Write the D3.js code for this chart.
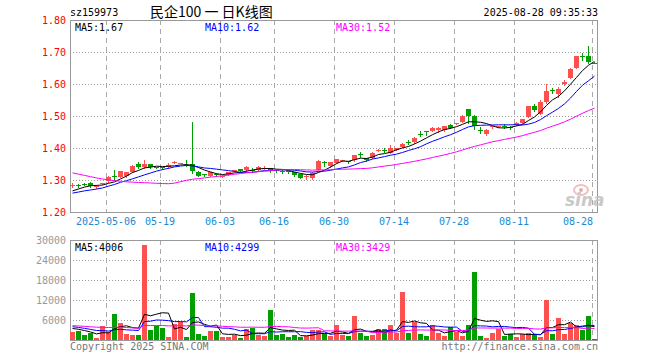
<!DOCTYPE html>
<html>
<head>
<meta charset="utf-8">
<script src="https://cdn.jsdelivr.net/npm/d3@7"></script>
<style>
  body { margin: 0; background: #fff; }
</style>
</head>
<body>
<div id="chart"></div>
<script>
// trading days shown on the chart
const dates = [
  "2025-04-23","2025-04-24","2025-04-25","2025-04-28","2025-04-29","2025-04-30",
  "2025-05-06","2025-05-07","2025-05-08","2025-05-09","2025-05-12","2025-05-13","2025-05-14","2025-05-15","2025-05-16",
  "2025-05-19","2025-05-20","2025-05-21","2025-05-22","2025-05-23","2025-05-26","2025-05-27","2025-05-28","2025-05-29","2025-05-30",
  "2025-06-03","2025-06-04","2025-06-05","2025-06-06","2025-06-09","2025-06-10","2025-06-11","2025-06-12","2025-06-13",
  "2025-06-16","2025-06-17","2025-06-18","2025-06-19","2025-06-20","2025-06-23","2025-06-24","2025-06-25","2025-06-26","2025-06-27",
  "2025-06-30","2025-07-01","2025-07-02","2025-07-03","2025-07-04","2025-07-07","2025-07-08","2025-07-09","2025-07-10","2025-07-11",
  "2025-07-14","2025-07-15","2025-07-16","2025-07-17","2025-07-18","2025-07-21","2025-07-22","2025-07-23","2025-07-24","2025-07-25",
  "2025-07-28","2025-07-29","2025-07-30","2025-07-31","2025-08-01","2025-08-04","2025-08-05","2025-08-06","2025-08-07","2025-08-08",
  "2025-08-11","2025-08-12","2025-08-13","2025-08-14","2025-08-15","2025-08-18","2025-08-19","2025-08-20","2025-08-21","2025-08-22",
  "2025-08-25","2025-08-26","2025-08-27","2025-08-28"
];

const open = [
  1.283,1.284,1.289,1.292,1.278,1.288,1.297,1.312,1.309,1.313,
  1.325,1.351,1.341,1.350,1.341,1.340,1.340,1.354,1.353,1.347,
  1.351,1.326,1.318,1.313,1.319,1.312,1.316,1.329,1.334,1.331,
  1.332,1.332,1.337,1.337,1.331,1.328,1.327,1.324,1.318,1.310,
  1.305,1.332,1.355,1.343,1.353,1.360,1.358,1.361,1.381,1.369,
  1.370,1.393,1.395,1.385,1.394,1.404,1.420,1.418,1.445,1.453,
  1.454,1.455,1.455,1.473,1.475,1.482,1.522,1.501,1.457,1.443,
  1.466,1.466,1.469,1.466,1.473,1.478,1.497,1.532,1.507,1.544,
  1.581,1.569,1.601,1.619,1.650,1.688,1.688,1.667
];
const high = [
  1.292,1.288,1.291,1.293,1.283,1.291,1.311,1.332,1.329,1.326,
  1.346,1.355,1.361,1.351,1.342,1.341,1.352,1.358,1.354,1.361,
  1.480,1.327,1.319,1.326,1.321,1.315,1.326,1.332,1.335,1.343,
  1.337,1.345,1.343,1.338,1.332,1.330,1.329,1.325,1.319,1.315,
  1.324,1.361,1.360,1.357,1.367,1.363,1.359,1.379,1.387,1.370,
  1.386,1.396,1.401,1.408,1.401,1.416,1.424,1.434,1.452,1.453,
  1.466,1.466,1.469,1.474,1.478,1.502,1.523,1.502,1.465,1.458,
  1.470,1.469,1.474,1.468,1.481,1.492,1.531,1.537,1.551,1.600,
  1.588,1.590,1.613,1.650,1.689,1.698,1.720,1.668
];
const low = [
  1.277,1.277,1.284,1.279,1.276,1.287,1.295,1.301,1.308,1.310,
  1.324,1.336,1.339,1.338,1.336,1.333,1.337,1.353,1.352,1.343,
  1.322,1.311,1.313,1.311,1.314,1.310,1.315,1.328,1.328,1.327,
  1.324,1.330,1.334,1.326,1.324,1.322,1.321,1.313,1.305,1.303,
  1.303,1.331,1.345,1.340,1.352,1.359,1.352,1.360,1.373,1.360,
  1.369,1.390,1.386,1.383,1.393,1.403,1.412,1.417,1.436,1.441,
  1.453,1.451,1.454,1.461,1.474,1.480,1.478,1.460,1.446,1.441,
  1.461,1.465,1.462,1.460,1.472,1.477,1.496,1.516,1.505,1.540,
  1.573,1.560,1.598,1.618,1.649,1.676,1.667,1.665
];
const close = [
  1.285,1.282,1.287,1.282,1.280,1.290,1.309,1.310,1.328,1.324,
  1.345,1.342,1.350,1.340,1.339,1.338,1.348,1.356,1.354,1.345,
  1.327,1.313,1.316,1.325,1.317,1.314,1.325,1.331,1.329,1.340,
  1.330,1.342,1.339,1.329,1.329,1.326,1.325,1.316,1.307,1.312,
  1.322,1.360,1.352,1.356,1.366,1.362,1.356,1.378,1.379,1.361,
  1.385,1.395,1.393,1.399,1.400,1.414,1.418,1.432,1.443,1.451,
  1.464,1.462,1.468,1.462,1.477,1.501,1.501,1.469,1.454,1.457,
  1.468,1.468,1.466,1.464,1.479,1.491,1.530,1.520,1.545,1.579,
  1.578,1.585,1.606,1.648,1.686,1.685,1.668,1.666
];
const volume = [
  2300,2700,1500,2000,600,4200,2300,7800,5200,1800,
  1500,1500,28500,3000,4300,3600,900,4800,5500,900,
  14100,1800,1200,2700,2700,900,900,1500,600,3300,
  3600,1500,1100,9000,1500,1800,900,1500,900,1100,
  3000,3000,1800,1100,4500,1500,1100,7200,2100,1100,
  1500,3300,3300,4500,2100,14400,2100,5400,1800,1200,
  4400,2000,1200,3900,2400,1200,4400,20500,1200,600,
  2100,3200,1200,1780,1000,1800,2200,1800,1000,11900,
  1800,6500,1760,5000,4600,3000,7200,230
];

// earlier sessions (before the window) so the moving averages start where the picture shows
const priorClose = [
  1.405,1.402,1.400,1.398,1.395,1.390,1.385,1.380,1.378,1.375,
  1.372,1.370,1.368,1.366,1.365,1.365,1.300,1.220,1.215,1.231,
  1.248,1.250,1.255,1.252,1.255,1.252,1.258,1.261,1.274
];
const priorVolume = [
  5200,4800,6100,4300,5000,4500,5600,4200,4700,5300,
  4800,3600,3200,4100,3500,4400,3900,3300,4600,3900,
  4800,4200,5100,4000,4400,3900,3400,4100,3600
];

const priceTicks = [1.2, 1.3, 1.4, 1.5, 1.6, 1.7, 1.8];
const volumeTicks = [6000, 12000, 18000, 24000, 30000];
const dateTicks = ["2025-05-06","2025-05-19","2025-06-03","2025-06-16","2025-06-30","2025-07-14","2025-07-28","2025-08-11","2025-08-28"];
const maPeriods = [5, 10, 30];
const maColors = ["#000000", "#0000ff", "#ff00ff"];

const code = "sz159973";
const title = "民企100 一 日K线图";
const stamp = "2025-08-28 09:35:33";

const W = 660, H = 360;
const left = 70, right = 598;
const kTop = 20, kBottom = 212;
const vTop = 240, vBottom = 340;
const RED = "#ff5050", GREEN = "#00a000";
const mono = "DejaVu Sans Mono";

const svg = d3.select("#chart").append("svg")
    .attr("width", W)
    .attr("height", H)
    .style("font-family", mono)
    .style("font-size", "10px");

const x = d3.scaleBand().domain(dates).range([left, right]);
const y = d3.scaleLinear().domain([1.2, 1.8]).range([kBottom, kTop]);
const yv = d3.scaleLinear().domain([0, 30000]).range([vBottom, vTop]);

function movingAvg(series, prior, n) {
    const all = prior.concat(series);
    return series.map((_, i) => d3.mean(all.slice(i + prior.length - n + 1, i + prior.length + 1)));
}
const priceMA = maPeriods.map(n => movingAvg(close, priorClose, n));
const volMA = maPeriods.map(n => movingAvg(volume, priorVolume, n));

const candles = dates.map((d, i) => ({
    date: d, o: open[i], h: high[i], l: low[i], c: close[i], v: volume[i],
    up: close[i] >= open[i]
}));

svg.append("defs").call(g => {
    g.append("clipPath").attr("id", "clipK")
        .append("rect").attr("x", left).attr("y", kTop).attr("width", right - left).attr("height", kBottom - kTop);
    g.append("clipPath").attr("id", "clipV")
        .append("rect").attr("x", left).attr("y", vTop).attr("width", right - left).attr("height", vBottom - vTop);
});

// header
svg.append("text").attr("x", left).attr("y", 16).attr("fill", "#000").text(code);
svg.append("text").attr("x", 150).attr("y", 17)
    .style("font-family", "'Noto Sans CJK SC'")
    .style("font-size", "14px")
    .attr("fill", "#000").text(title);
svg.append("text").attr("x", right).attr("y", 16).attr("text-anchor", "end").attr("fill", "#000").text(stamp);

// grids for both panels
function panelGrid(top, bottom, scale, ticks) {
    const g = svg.append("g");
    g.selectAll(".h")
        .data(ticks.filter(t => Math.abs(scale(t) - top) > 1 && Math.abs(scale(t) - bottom) > 1))
        .enter().append("line")
        .attr("x1", left).attr("x2", right)
        .attr("y1", t => Math.round(scale(t)) + 0.5)
        .attr("y2", t => Math.round(scale(t)) + 0.5)
        .attr("stroke", "#999").attr("stroke-dasharray", "1,2");
    g.selectAll(".v")
        .data(dateTicks)
        .enter().append("line")
        .attr("x1", d => x(d) + 0.5).attr("x2", d => x(d) + 0.5)
        .attr("y1", top).attr("y2", bottom)
        .attr("stroke", "#aaa").attr("stroke-dasharray", "5,4");
    g.append("rect")
        .attr("x", left + 0.5).attr("y", top + 0.5)
        .attr("width", right - left - 1).attr("height", bottom - top)
        .attr("fill", "none").attr("stroke", "#999");
}
panelGrid(kTop, kBottom, y, priceTicks);
panelGrid(vTop, vBottom, yv, volumeTicks);

// price labels
svg.append("g").selectAll("text")
    .data(priceTicks)
    .enter().append("text")
    .attr("x", 66).attr("y", d => y(d) + 4)
    .attr("text-anchor", "end")
    .attr("fill", "#f00")
    .text(d => d.toFixed(2));

// volume labels
svg.append("g").selectAll("text")
    .data(volumeTicks)
    .enter().append("text")
    .attr("x", 66).attr("y", d => yv(d) + 4)
    .attr("text-anchor", "end")
    .attr("fill", "#999")
    .text(d => d);

// date labels
const charW = 6.02;
svg.append("g").selectAll("text")
    .data(dateTicks)
    .enter().append("text")
    .attr("x", (d, i) => {
        const label = i === 0 ? d : d.slice(5);
        const w = label.length * charW;
        return Math.min(x(d), right - 5 - w / 2);
    })
    .attr("y", 225)
    .attr("text-anchor", "middle")
    .attr("fill", "#1a8ad4")
    .text((d, i) => i === 0 ? d : d.slice(5));

// sina watermark
const logo = svg.append("g").attr("opacity", 0.9);
logo.append("ellipse").attr("cx", 581).attr("cy", 190).attr("rx", 7).attr("ry", 5)
    .attr("fill", "none").attr("stroke", "#f2b8b8").attr("stroke-width", 2);
logo.append("circle").attr("cx", 581).attr("cy", 190).attr("r", 2).attr("fill", "#e9a0a0");
logo.append("text").attr("x", 565).attr("y", 206)
    .style("font-family", "'DejaVu Sans'")
    .style("font-size", "17px").style("font-weight", "bold").style("font-style", "italic")
    .attr("fill", "#c4c4c4").text("sina");

// candles
const kg = svg.append("g").attr("clip-path", "url(#clipK)").attr("shape-rendering", "crispEdges");
kg.selectAll(".wick")
    .data(candles)
    .enter().append("line")
    .attr("x1", d => x(d.date) + 2.5).attr("x2", d => x(d.date) + 2.5)
    .attr("y1", d => Math.round(y(d.h))).attr("y2", d => Math.round(y(d.l)) + 1)
    .attr("stroke", d => d.up ? RED : GREEN);
kg.selectAll(".body")
    .data(candles)
    .enter().append("rect")
    .attr("x", d => x(d.date))
    .attr("width", 5)
    .attr("y", d => Math.round(y(Math.max(d.o, d.c))))
    .attr("height", d => Math.max(1, Math.round(y(Math.min(d.o, d.c))) - Math.round(y(Math.max(d.o, d.c)))))
    .attr("fill", d => d.up ? RED : GREEN);

// price moving averages
maPeriods.forEach((n, k) => {
    svg.append("path")
        .datum(priceMA[k])
        .attr("clip-path", "url(#clipK)")
        .attr("fill", "none")
        .attr("stroke", maColors[k])
        .attr("stroke-width", 1)
        .attr("d", d3.line().x((d, i) => x(dates[i]) + 2.5).y(d => y(d)));
});

// volume bars
const vg = svg.append("g").attr("clip-path", "url(#clipV)").attr("shape-rendering", "crispEdges");
vg.selectAll(".bar")
    .data(candles)
    .enter().append("rect")
    .attr("x", d => x(d.date))
    .attr("width", 5)
    .attr("y", d => Math.round(yv(d.v)))
    .attr("height", d => vBottom - Math.round(yv(d.v)))
    .attr("fill", d => d.up ? RED : GREEN);

maPeriods.forEach((n, k) => {
    svg.append("path")
        .datum(volMA[k])
        .attr("clip-path", "url(#clipV)")
        .attr("fill", "none")
        .attr("stroke", maColors[k])
        .attr("stroke-width", 1)
        .attr("d", d3.line().x((d, i) => x(dates[i]) + 2.5).y(d => yv(d)));
});

// MA legends
const legendX = [75, 205, 336];
const last = dates.length - 1;
maPeriods.forEach((n, k) => {
    svg.append("text").attr("x", legendX[k]).attr("y", 31)
        .attr("fill", maColors[k])
        .text(`MA${n}:${priceMA[k][last].toFixed(2)}`);
    svg.append("text").attr("x", legendX[k]).attr("y", 251)
        .attr("fill", maColors[k])
        .text(`MA${n}:${Math.round(volMA[k][last])}`);
});

// footer
svg.append("text").attr("x", left).attr("y", 350).attr("fill", "#777").text("Copyright 2025 SINA.COM");
svg.append("text").attr("x", right).attr("y", 350).attr("text-anchor", "end").attr("fill", "#777").text("http://finance.sina.com.cn");
</script>
</body>
</html>
